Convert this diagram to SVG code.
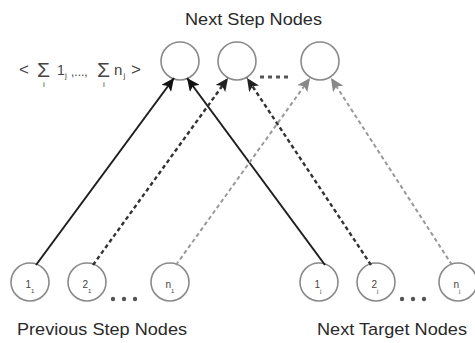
<svg xmlns="http://www.w3.org/2000/svg" width="475" height="343" viewBox="0 0 475 343">
<style>
.node{fill:#fff;stroke:#8a8a8a;stroke-width:1.6}
.lbl{font-family:"Liberation Sans",Arial,sans-serif;font-size:10px;fill:#444}
.sub{font-family:"Liberation Sans",Arial,sans-serif;font-size:6px;fill:#444}
.title{font-family:"Liberation Sans",Arial,sans-serif;font-size:17px;fill:#2a2a2a}
.f{font-family:"Liberation Sans",Arial,sans-serif;fill:#444}
.solid{stroke:#1e1e1e;stroke-width:2;fill:none}
.dash{stroke:#333;stroke-width:2.4;fill:none;stroke-dasharray:4 3}
.light{stroke:#999;stroke-width:2;fill:none;stroke-dasharray:4 3}
.dot{fill:#555}
</style>
<defs>
<marker id="aS" markerUnits="userSpaceOnUse" markerWidth="14" markerHeight="12" refX="13" refY="6" orient="auto"><path d="M0,0 L13,6 L0,12 L3,6 Z" fill="#111"/></marker>
<marker id="aD" markerUnits="userSpaceOnUse" markerWidth="14" markerHeight="12" refX="13" refY="6" orient="auto"><path d="M0,0 L13,6 L0,12 L3,6 Z" fill="#222"/></marker>
<marker id="aL" markerUnits="userSpaceOnUse" markerWidth="14" markerHeight="12" refX="13" refY="6" orient="auto"><path d="M0,0 L13,6 L0,12 L3,6 Z" fill="#888"/></marker>
</defs>

<text class="title" x="185" y="25" textLength="137" lengthAdjust="spacingAndGlyphs">Next Step Nodes</text>
<text class="title" x="17" y="335" textLength="170" lengthAdjust="spacingAndGlyphs">Previous Step Nodes</text>
<text class="title" x="317" y="335" textLength="150" lengthAdjust="spacingAndGlyphs">Next Target Nodes</text>

<g id="formula">
<text class="f" x="19" y="75" font-size="17">&lt;</text>
<text class="f" x="37" y="77" font-size="21">Σ</text>
<text class="f" x="43" y="87" font-size="8">i</text>
<text class="f" x="57" y="75" font-size="14">1</text>
<text class="f" x="65" y="78" font-size="8">j</text>
<text class="f" x="71" y="76" font-size="12">,...,</text>
<text class="f" x="97" y="77" font-size="21">Σ</text>
<text class="f" x="103" y="87" font-size="8">i</text>
<text class="f" x="114" y="75" font-size="15">n</text>
<text class="f" x="123.5" y="78" font-size="8">j</text>
<text class="f" x="131" y="75" font-size="17">&gt;</text>
</g>

<g id="top1"><circle class="node" cx="180" cy="61" r="19"/></g>
<g id="top2"><circle class="node" cx="237" cy="61" r="19"/></g>
<g id="top3"><circle class="node" cx="320" cy="61" r="19"/></g>

<g id="prev1"><circle class="node" cx="30" cy="282" r="19"/><text class="lbl" x="25.5" y="288">1</text><text class="sub" x="31" y="293">1</text></g>
<g id="prev2"><circle class="node" cx="87" cy="282" r="19"/><text class="lbl" x="82.5" y="288">2</text><text class="sub" x="88" y="293">1</text></g>
<g id="prevn"><circle class="node" cx="170" cy="282" r="19"/><text class="lbl" x="165.5" y="288">n</text><text class="sub" x="171" y="293">1</text></g>

<g id="next1"><circle class="node" cx="319" cy="282" r="19"/><text class="lbl" x="314.5" y="288">1</text><text class="sub" x="320" y="293">j</text></g>
<g id="next2"><circle class="node" cx="376" cy="282" r="19"/><text class="lbl" x="371.5" y="288">2</text><text class="sub" x="377" y="293">j</text></g>
<g id="nextn"><circle class="node" cx="458" cy="282" r="19"/><text class="lbl" x="453.5" y="288">n</text><text class="sub" x="459" y="293">j</text></g>

<g id="ellipses">
<circle class="dot" cx="113" cy="299" r="2.2"/><circle class="dot" cx="124" cy="299" r="2.2"/><circle class="dot" cx="135" cy="299" r="2.2"/>
<circle class="dot" cx="402" cy="299" r="2.2"/><circle class="dot" cx="413" cy="299" r="2.2"/><circle class="dot" cx="424" cy="299" r="2.2"/>
<line x1="260" y1="77" x2="292" y2="77" stroke="#555" stroke-width="3" stroke-dasharray="4 4"/>
</g>

<g id="connectors">
<path class="solid" d="M36,265 L174,78" marker-end="url(#aS)"/>
<path class="solid" d="M325,265 L187,78" marker-end="url(#aS)"/>
<path class="dash" d="M93,265 L228,78" marker-end="url(#aD)"/>
<path class="dash" d="M371,265 L247,78" marker-end="url(#aD)"/>
<path class="light" d="M176,265 L310,78" marker-end="url(#aL)"/>
<path class="light" d="M452,265 L331,78" marker-end="url(#aL)"/>
</g>
</svg>
